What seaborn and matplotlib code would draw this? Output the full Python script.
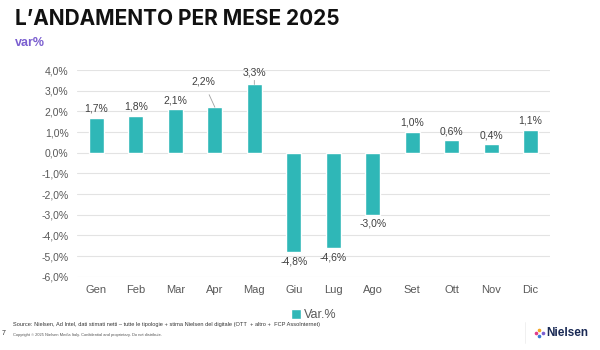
import matplotlib
matplotlib.use("Agg")
import matplotlib.pyplot as plt
import seaborn as sns
import pandas as pd

months = ["Gen", "Feb", "Mar", "Apr", "Mag", "Giu", "Lug", "Ago", "Set", "Ott", "Nov", "Dic"]
values = [1.7, 1.8, 2.1, 2.2, 3.3, -4.8, -4.6, -3.0, 1.0, 0.6, 0.4, 1.1]
yticks = [4, 3, 2, 1, 0, -1, -2, -3, -4, -5, -6]
series_name = "Var.%"

df = pd.DataFrame({"mese": months, "var": values, "serie": series_name})

sns.set_theme(style="white")
plt.rcParams["font.family"] = ["Liberation Sans", "DejaVu Sans"]

teal = "#2fb7b7"
fig = plt.figure(figsize=(6, 3.5), dpi=100)
ax = fig.add_axes([0.128, 0.209, 0.789, 0.591])

sns.barplot(data=df, x="mese", y="var", hue="serie", palette=[teal], width=0.38,
            saturation=1, ax=ax, legend=True, zorder=3)

ax.set_ylim(-6, 4)
ax.set_yticks(yticks)
ax.set_yticklabels([f"{v:.1f}%".replace(".", ",") for v in yticks])
ax.grid(axis="y", color="#e3e3e3", linewidth=0.8, zorder=0)
ax.set_axisbelow(True)
for s in ax.spines.values():
    s.set_visible(False)
ax.set_xlabel("")
ax.set_ylabel("")
ax.tick_params(axis="y", labelsize=7.5, labelcolor="#595959", length=0, pad=6)
ax.tick_params(axis="x", labelsize=8, labelcolor="#595959", length=0, pad=6)
ax.set_xlim(-0.5, len(months) - 0.5)

# data labels
lab_kw = dict(fontsize=7.5, color="#404040", ha="center")
for i, v in enumerate(values):
    txt = f"{v:.1f}%".replace(".", ",")
    if months[i] == "Apr":
        ax.annotate(txt, xy=(i, v), xytext=(i - 0.3, v + 1.25), va="center",
                    arrowprops=dict(arrowstyle="-", color="#a0a0a0", lw=0.6,
                                    shrinkA=4, shrinkB=0), **lab_kw)
    elif months[i] == "Mag":
        ax.annotate(txt, xy=(i, v), xytext=(i, v + 0.6), va="center",
                    arrowprops=dict(arrowstyle="-", color="#a0a0a0", lw=0.6,
                                    shrinkA=3, shrinkB=0), **lab_kw)
    elif v >= 0:
        ax.annotate(txt, xy=(i, v), xytext=(0, 3), textcoords="offset points",
                    va="bottom", **lab_kw)
    else:
        ax.annotate(txt, xy=(i, v), xytext=(0, -3), textcoords="offset points",
                    va="top", **lab_kw)

# legend
leg = ax.legend(loc="center", bbox_to_anchor=(0.5, -0.185), frameon=False,
                fontsize=9, handlelength=0.8, handleheight=0.8, handletextpad=0.2,
                labelcolor="#595959")

# title and texts
fig.text(0.025, 0.947, "L\u2019ANDAMENTO PER MESE 2025", fontsize=15, fontweight="bold",
         color="#111111", va="center", family=["Inter", "DejaVu Sans"])
fig.text(0.025, 0.878, "var%", fontsize=9, fontweight="bold", color="#7b5fd0", va="center")
fig.text(0.022, 0.072,
         "Source: Nielsen, Ad Intel, dati stimati netti \u2013 tutte le tipologie + stima Nielsen del digitale (OTT  + altro +  FCP AssoInternet)",
         fontsize=4.1, color="#333333", va="center")
fig.text(0.022, 0.043,
         "Copyright \u00a9 2025 Nielsen Media Italy. Confidential and proprietary. Do not distribute.",
         fontsize=2.9, color="#555555", va="center")
fig.text(0.003, 0.048, "7", fontsize=5, color="#333333", va="center")
fig.text(0.98, 0.048, "Nielsen", fontsize=8.5, fontweight="bold", color="#1a2a55",
         va="center", ha="right")
for dx, dy, c in [(0, 0, "#e03c8a"), (0.006, 0.009, "#f5a623"), (0.006, -0.009, "#3a7bd5"), (0.012, 0, "#7b5fd0")]:
    fig.add_artist(plt.Line2D([0.893 + dx], [0.048 + dy], marker="o", markersize=1.6,
                              color=c, linestyle="none"))
fig.add_artist(plt.Line2D([0.875, 0.875], [0.02, 0.08], color="#eeeeee", lw=0.6))

fig.savefig("out.png", dpi=100)
